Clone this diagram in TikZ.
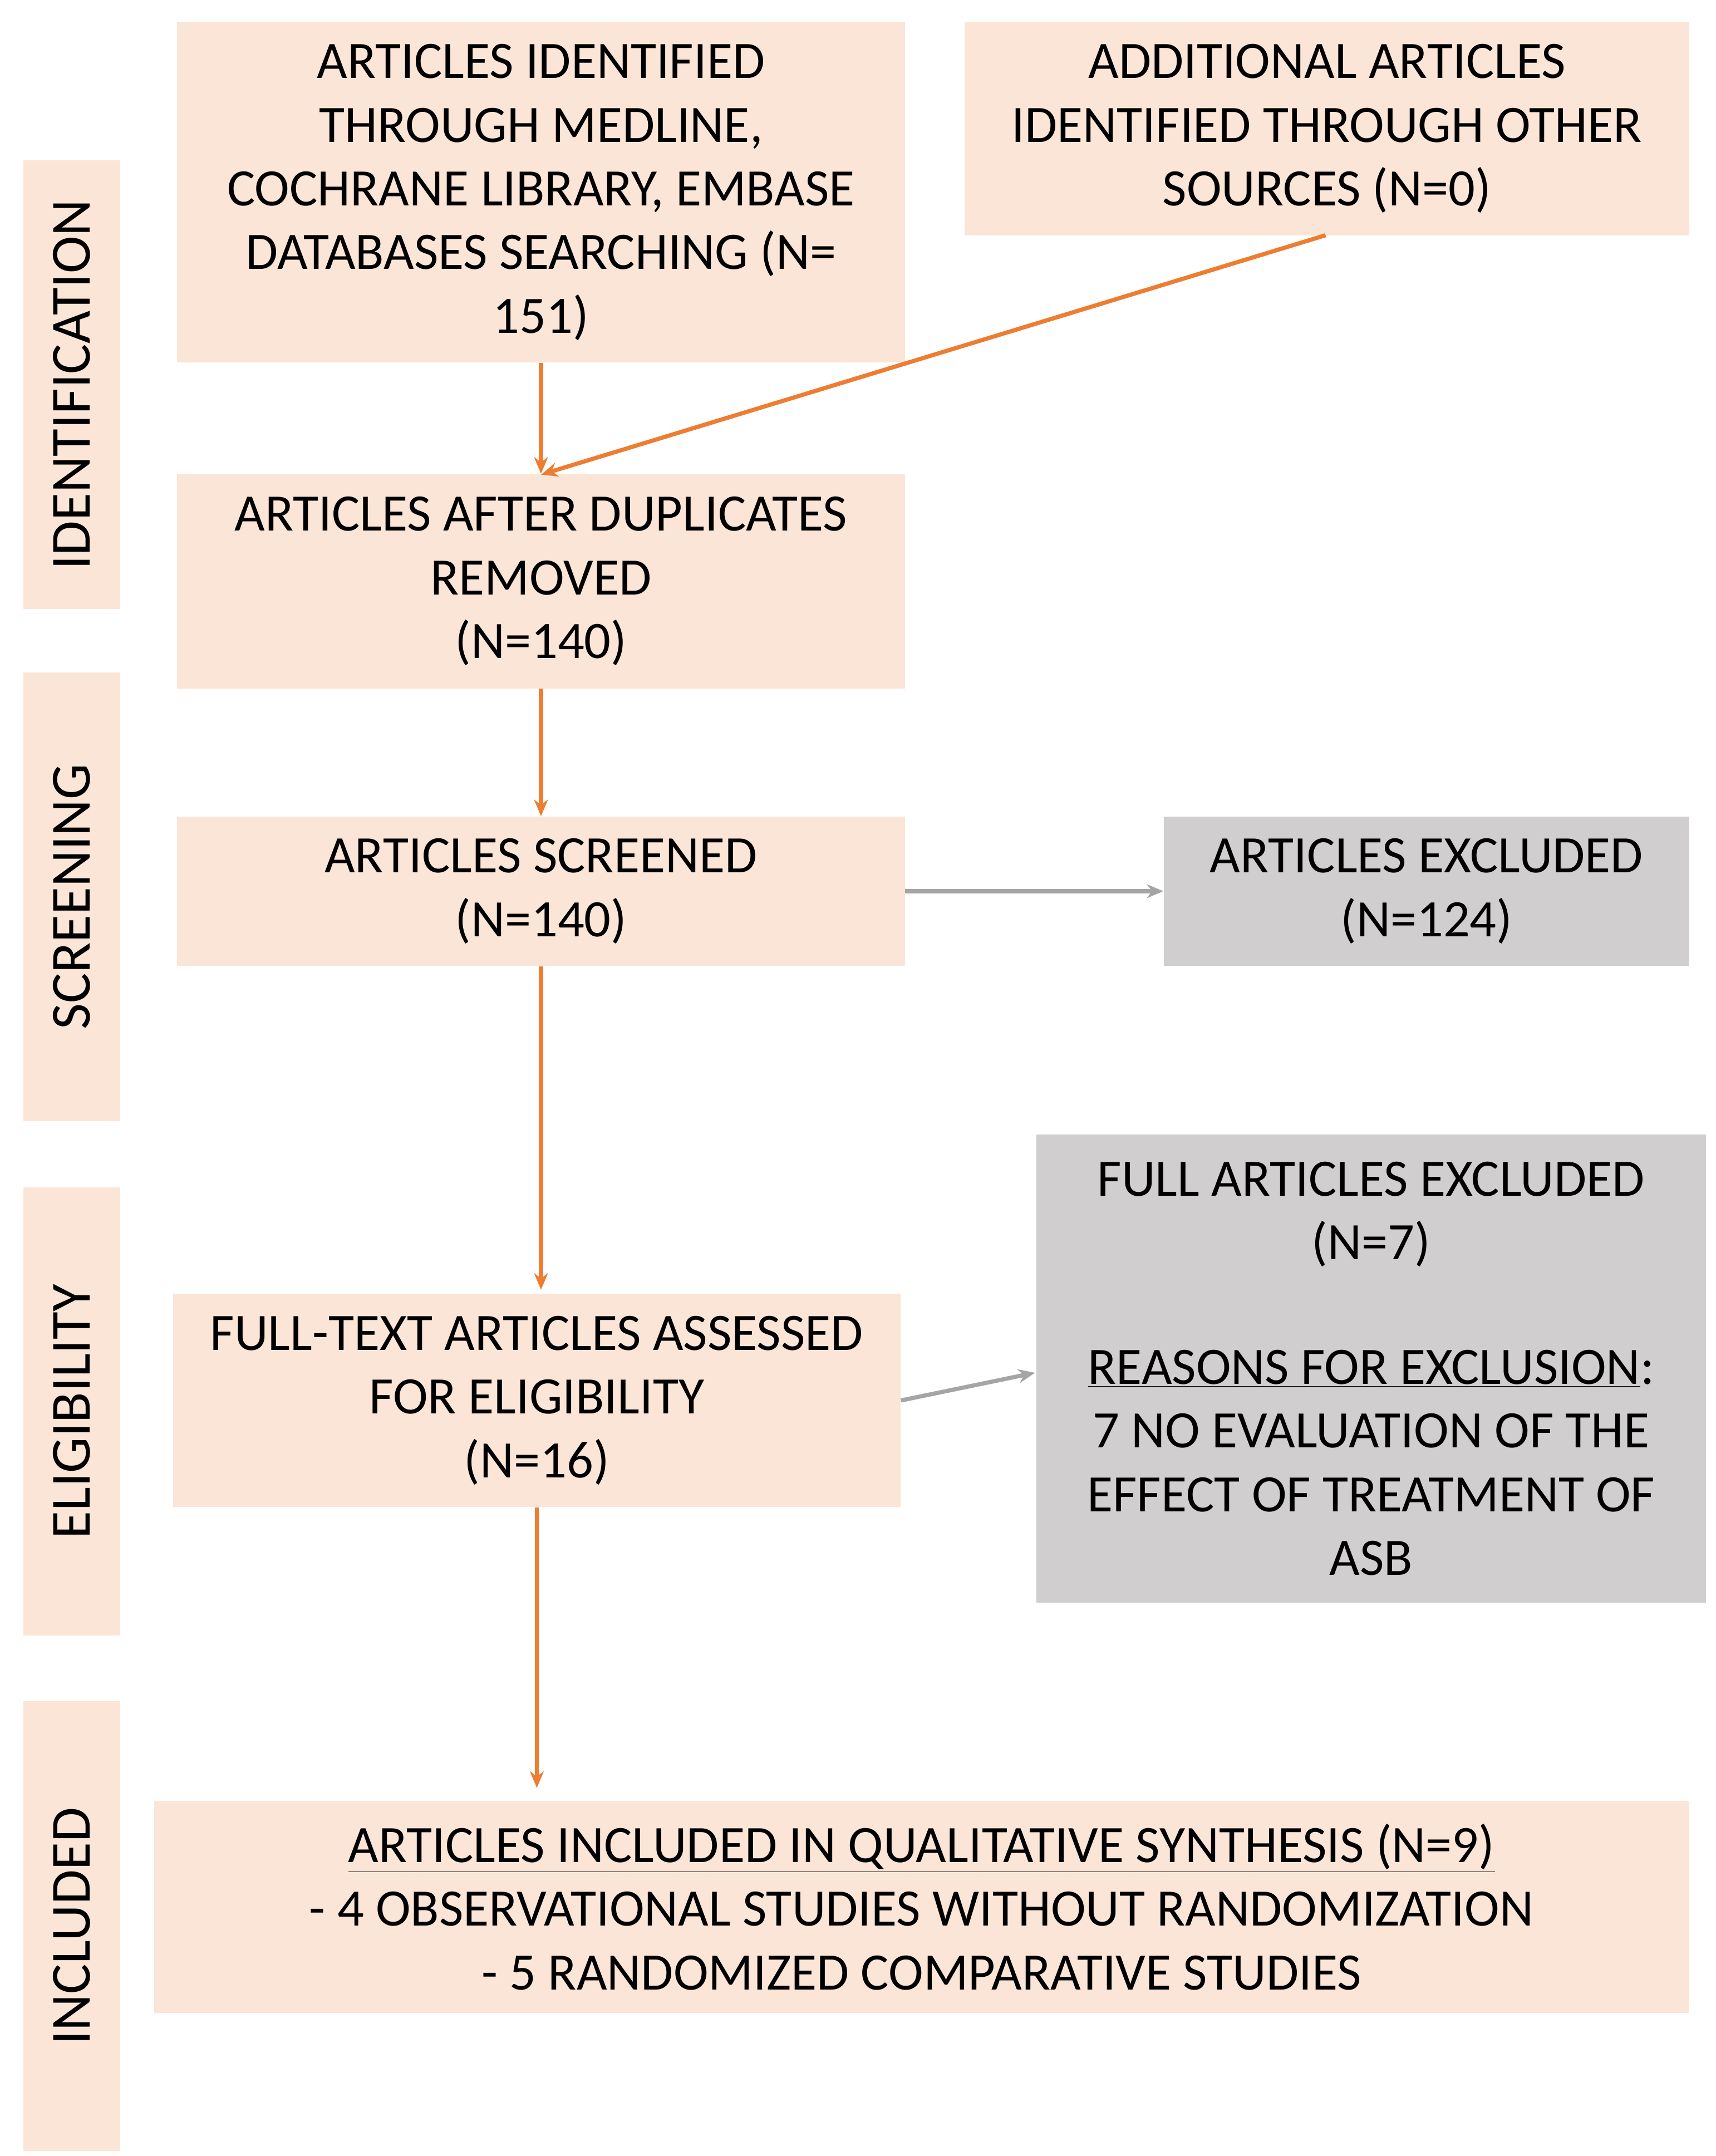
\documentclass[tikz,border=0pt]{standalone}
\usepackage{fontspec}
\setmainfont{Carlito}
\usetikzlibrary{arrows.meta}
\definecolor{peach}{HTML}{FBE5D6}
\definecolor{gbox}{HTML}{D0CECE}
\definecolor{orar}{HTML}{ED7D31}
\definecolor{grar}{HTML}{A5A5A5}
\begin{document}
\begin{tikzpicture}[x=1pt,y=-1pt,
  box/.style={fill=peach,inner sep=0pt,align=center,font=\fontsize{38}{46}\selectfont},
  gbox/.style={box,fill=gbox},
  side/.style={fill=peach,inner sep=0pt,minimum width=70pt,minimum height=324pt,font=\fontsize{41}{44}\selectfont},
  oa/.style={draw=orar,line width=3pt,-{Stealth[length=12pt,width=10pt]}},
  ga/.style={draw=grar,line width=3pt,-{Stealth[length=12pt,width=10pt]}}]
\useasboundingbox (0,0) rectangle (1240,1558);
\node[box,minimum width=526pt,minimum height=246pt] (A) at (391,139) {ARTICLES IDENTIFIED\\THROUGH MEDLINE,\\COCHRANE LIBRARY, EMBASE\\DATABASES SEARCHING (N=\\151)};
\node[box,minimum width=524pt,minimum height=154pt] (B) at (959,93) {ADDITIONAL ARTICLES\\IDENTIFIED THROUGH OTHER\\SOURCES (N=0)};
\node[box,minimum width=526pt,minimum height=155pt] (C) at (391,420) {ARTICLES AFTER DUPLICATES\\REMOVED\\(N=140)};
\node[box,minimum width=526pt,minimum height=108pt] (D) at (391,644) {ARTICLES SCREENED\\(N=140)};
\node[gbox,minimum width=380pt,minimum height=108pt] (E) at (1031,644) {ARTICLES EXCLUDED\\(N=124)};
\node[box,minimum width=526pt,minimum height=154pt] (F) at (388,1012) {FULL-TEXT ARTICLES ASSESSED\\FOR ELIGIBILITY\\(N=16)};
\node[gbox,minimum width=484pt,minimum height=338pt] (G) at (991,989) {FULL ARTICLES EXCLUDED\\(N=7)\\[44pt]\underline{REASONS FOR EXCLUSION}:\\7 NO EVALUATION OF THE\\EFFECT OF TREATMENT OF\\ASB};
\node[box,minimum width=1109pt,minimum height=153pt] (H) at (666,1378) {\underline{ARTICLES INCLUDED IN QUALITATIVE SYNTHESIS (N=9)}\\- 4 OBSERVATIONAL STUDIES WITHOUT RANDOMIZATION\\- 5 RANDOMIZED COMPARATIVE STUDIES};
\node[side] (S1) at (52,278) {\rotatebox{90}{IDENTIFICATION}};
\node[side] (S2) at (52,648) {\rotatebox{90}{SCREENING}};
\node[side] (S3) at (52,1020) {\rotatebox{90}{ELIGIBILITY}};
\node[side,minimum height=325pt] (S4) at (52,1392) {\rotatebox{90}{INCLUDED}};
\coordinate (Ct) at (391,343);
\draw[oa] (A.south) -- (C.north);
\draw[oa] (958,170) -- (Ct);
\draw[oa] (C.south) -- (D.north);
\draw[oa] (D.south) -- (391,932);
\draw[oa] (F.south) -- (388,1292);
\draw[ga] (D.east) -- (E.west);
\draw[ga] (F.east) -- (748,992);
\end{tikzpicture}
\end{document}
